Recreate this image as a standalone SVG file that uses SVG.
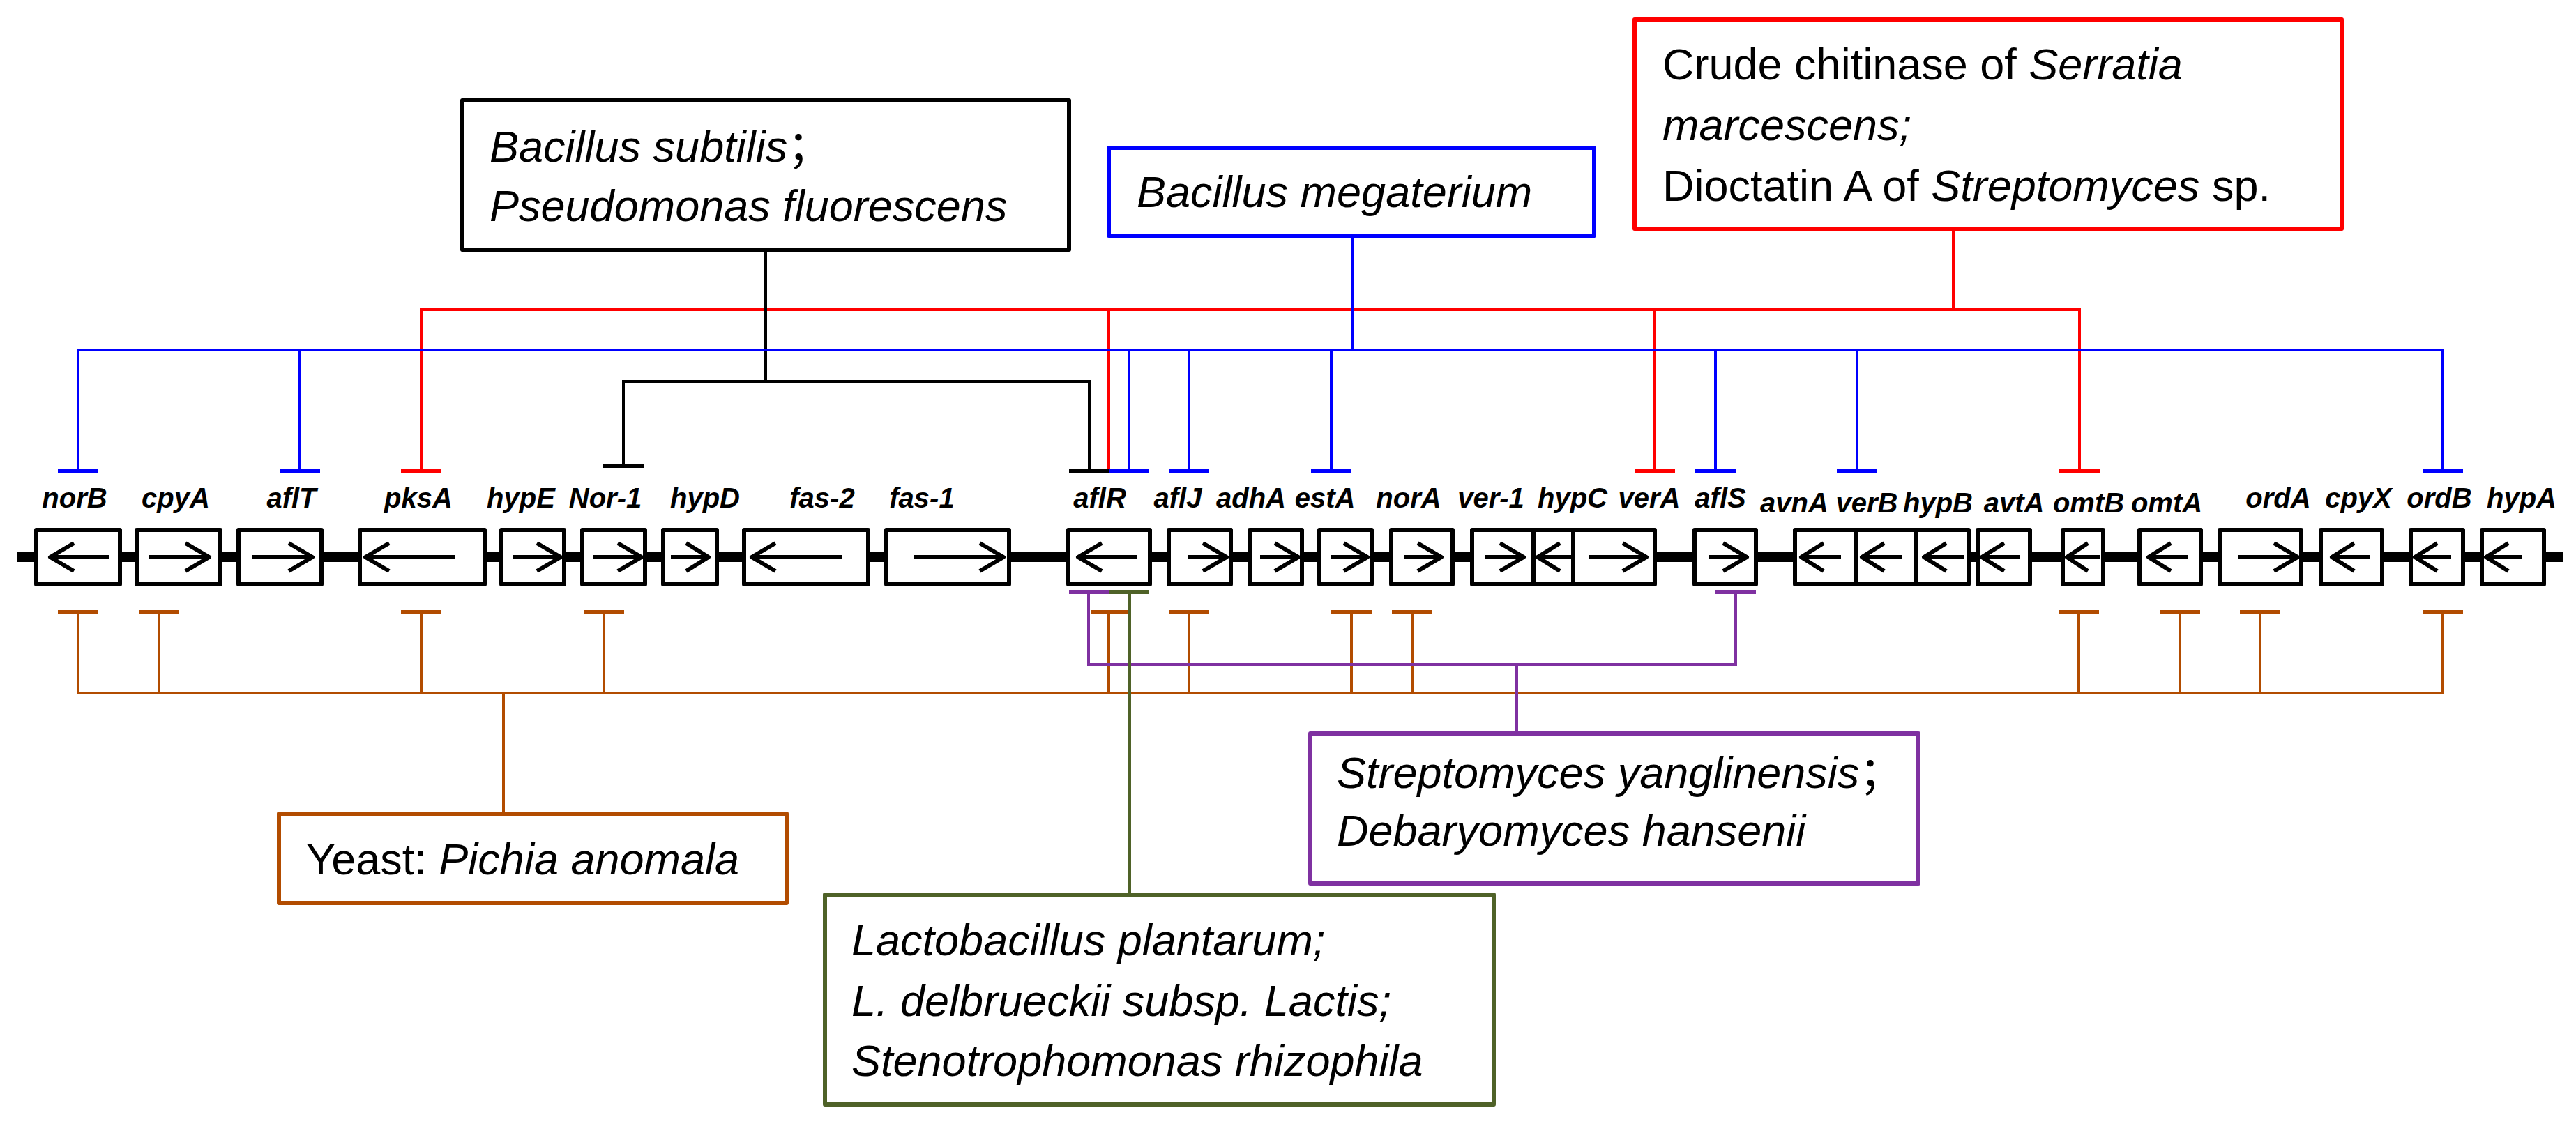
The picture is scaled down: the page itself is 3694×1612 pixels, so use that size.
<svg xmlns="http://www.w3.org/2000/svg" width="3694" height="1612" viewBox="0 0 3694 1612">
<style>
.gbox{fill:#fff;stroke:#000;stroke-width:6;stroke-linejoin:round}
.arr{fill:none;stroke:#000;stroke-width:6;stroke-linejoin:round}
.lbl{font-family:"Liberation Sans",Arial,sans-serif;font-weight:bold;font-style:italic;font-size:40px;text-anchor:middle;fill:#000}
.src{font-family:"Liberation Sans",Arial,"Noto Sans CJK SC",sans-serif;font-size:63px;fill:#000}
.it{font-style:italic}
.up{font-style:normal}
.sbox{fill:#fff;stroke-width:6;stroke-linejoin:round}
.ln{fill:none;stroke-width:4}
.tb{fill:none;stroke-width:6}
.cb{stroke:#0000FF}.cr{stroke:#FF0000}.ck{stroke:#000}.co{stroke:#B24C00}.cp{stroke:#7F31A1}.cg{stroke:#4F6228}
</style>
<rect width="3694" height="1612" fill="#fff"/>

<g id="connectors">
  <g id="conn-red">
    <path class="ln cr" d="M2801,328 V444 M604,676 V444 H2982 V676 M1590,444 V676 M2373,444 V676"/>
    <path class="tb cr" d="M575,676 H633 M1561,676 H1619 M2344,676 H2402 M2953,676 H3011"/>
  </g>
  <g id="conn-black">
    <path class="ln ck" d="M1098,358 V547 M894,668 V547 H1562 V676"/>
    <path class="tb ck" d="M865,668 H923 M1533,676 H1591"/>
  </g>
  <g id="conn-blue">
    <path class="ln cb" d="M1939,338 V502 M112,676 V502 H3503 V676 M430,502 V676 M1619,502 V676 M1705,502 V676 M1909,502 V676 M2460,502 V676 M2663,502 V676"/>
    <path class="tb cb" d="M83,676 H141 M401,676 H459 M1590,676 H1648 M1676,676 H1734 M1880,676 H1938 M2431,676 H2489 M2634,676 H2692 M3474,676 H3532"/>
  </g>
  <g id="conn-brown">
    <path class="ln co" d="M722,1167 V994 M112,878 V994 H3503 V878 M228,994 V878 M604,994 V878 M866,994 V878 M1590,994 V878 M1705,994 V878 M1938,994 V878 M2025,994 V878 M2981,994 V878 M3126,994 V878 M3241,994 V878"/>
    <path class="tb co" d="M83,878 H141 M199,878 H257 M575,878 H633 M837,878 H895 M1564,878 H1617 M1676,878 H1734 M1909,878 H1967 M1996,878 H2054 M2952,878 H3010 M3097,878 H3155 M3212,878 H3270 M3474,878 H3532"/>
  </g>
  <g id="conn-purple">
    <path class="ln cp" d="M2175,1052 V953 M1561,849 V953 H2489 V849"/>
    <path class="tb cp" d="M1533,849 H1590 M2460,849 H2518"/>
  </g>
  <g id="conn-green">
    <path class="ln cg" d="M1620,849 V1283"/>
    <path class="tb cg" d="M1590,849 H1648"/>
  </g>
</g>

<g id="backbone">
  <rect x="24" y="792" width="3651" height="14" fill="#000"/>
</g>

<g id="genes">
  <g id="g-norB"><rect class="gbox" x="52" y="760" width="120" height="78"/><path class="arr" d="M156,799 H72 M106,779 L72,799 L106,819"/><text class="lbl" x="107" y="728">norB</text></g>
  <g id="g-cpyA"><rect class="gbox" x="196" y="760" width="120" height="78"/><path class="arr" d="M214,799 H300 M266,779 L300,799 L266,819"/><text class="lbl" x="252" y="728">cpyA</text></g>
  <g id="g-aflT"><rect class="gbox" x="342" y="760" width="119" height="78"/><path class="arr" d="M362,799 H448 M414,779 L448,799 L414,819"/><text class="lbl" x="418" y="728">aflT</text></g>
  <g id="g-pksA"><rect class="gbox" x="516" y="760" width="179" height="78"/><path class="arr" d="M652,799 H524 M558,779 L524,799 L558,819"/><text class="lbl" x="600" y="728">pksA</text></g>
  <g id="g-hypE"><rect class="gbox" x="719" y="760" width="90" height="78"/><path class="arr" d="M735,799 H804 M770,779 L804,799 L770,819"/><text class="lbl" x="747" y="728">hypE</text></g>
  <g id="g-Nor-1"><rect class="gbox" x="835" y="760" width="90" height="78"/><path class="arr" d="M851,799 H920 M886,779 L920,799 L886,819"/><text class="lbl" x="868" y="728">Nor-1</text></g>
  <g id="g-hypD"><rect class="gbox" x="951" y="760" width="77" height="78"/><path class="arr" d="M962,799 H1016 M984,779 L1016,799 L984,819"/><text class="lbl" x="1011" y="728">hypD</text></g>
  <g id="g-fas-2"><rect class="gbox" x="1067" y="760" width="178" height="78"/><path class="arr" d="M1207,799 H1078 M1112,779 L1078,799 L1112,819"/><text class="lbl" x="1179" y="728">fas-2</text></g>
  <g id="g-fas-1"><rect class="gbox" x="1271" y="760" width="176" height="78"/><path class="arr" d="M1310,799 H1439 M1405,779 L1439,799 L1405,819"/><text class="lbl" x="1322" y="728">fas-1</text></g>
  <g id="g-aflR"><rect class="gbox" x="1532" y="760" width="117" height="78"/><path class="arr" d="M1631,799 H1546 M1580,779 L1546,799 L1580,819"/><text class="lbl" x="1577" y="728">aflR</text></g>
  <g id="g-aflJ"><rect class="gbox" x="1676" y="760" width="89" height="78"/><path class="arr" d="M1704,799 H1759 M1725,779 L1759,799 L1725,819"/><text class="lbl" x="1689" y="728">aflJ</text></g>
  <g id="g-adhA"><rect class="gbox" x="1792" y="760" width="75" height="78"/><path class="arr" d="M1807,799 H1862 M1828,779 L1862,799 L1828,819"/><text class="lbl" x="1794" y="728">adhA</text></g>
  <g id="g-estA"><rect class="gbox" x="1892" y="760" width="75" height="78"/><path class="arr" d="M1909,799 H1961 M1927,779 L1961,799 L1927,819"/><text class="lbl" x="1900" y="728">estA</text></g>
  <g id="g-norA"><rect class="gbox" x="1995" y="760" width="88" height="78"/><path class="arr" d="M2013,799 H2067 M2033,779 L2067,799 L2033,819"/><text class="lbl" x="2020" y="728">norA</text></g>
  <g id="g-ver-1"><rect class="gbox" x="2111" y="760" width="88" height="78"/><path class="arr" d="M2129,799 H2185 M2151,779 L2185,799 L2151,819"/><text class="lbl" x="2138" y="728">ver-1</text></g>
  <g id="g-hypC"><rect class="gbox" x="2199" y="760" width="57" height="78"/><path class="arr" d="M2256,799 H2205 M2237,779 L2205,799 L2237,819"/><text class="lbl" x="2255" y="728">hypC</text></g>
  <g id="g-verA"><rect class="gbox" x="2256" y="760" width="117" height="78"/><path class="arr" d="M2278,799 H2361 M2327,779 L2361,799 L2327,819"/><text class="lbl" x="2365" y="728">verA</text></g>
  <g id="g-aflS"><rect class="gbox" x="2430" y="760" width="88" height="78"/><path class="arr" d="M2450,799 H2505 M2471,779 L2505,799 L2471,819"/><text class="lbl" x="2467" y="728">aflS</text></g>
  <g id="g-avnA"><rect class="gbox" x="2574" y="760" width="88" height="78"/><path class="arr" d="M2640,799 H2583 M2615,779 L2583,799 L2615,819"/><text class="lbl" x="2573" y="735">avnA</text></g>
  <g id="g-verB"><rect class="gbox" x="2662" y="760" width="86" height="78"/><path class="arr" d="M2728,799 H2670 M2702,779 L2670,799 L2702,819"/><text class="lbl" x="2677" y="735">verB</text></g>
  <g id="g-hypB"><rect class="gbox" x="2748" y="760" width="75" height="78"/><path class="arr" d="M2816,799 H2759 M2791,779 L2759,799 L2791,819"/><text class="lbl" x="2779" y="735">hypB</text></g>
  <g id="g-avtA"><rect class="gbox" x="2836" y="760" width="75" height="78"/><path class="arr" d="M2896,799 H2842 M2874,779 L2842,799 L2874,819"/><text class="lbl" x="2888" y="735">avtA</text></g>
  <g id="g-omtB"><rect class="gbox" x="2958" y="760" width="58" height="78"/><path class="arr" d="M3011,799 H2964 M2994,779 L2964,799 L2994,819"/><text class="lbl" x="2995" y="735">omtB</text></g>
  <g id="g-omtA"><rect class="gbox" x="3068" y="760" width="88" height="78"/><path class="arr" d="M3137,799 H3081 M3113,779 L3081,799 L3113,819"/><text class="lbl" x="3107" y="735">omtA</text></g>
  <g id="g-ordA"><rect class="gbox" x="3183" y="760" width="117" height="78"/><path class="arr" d="M3210,799 H3295 M3261,779 L3295,799 L3261,819"/><text class="lbl" x="3267" y="728">ordA</text></g>
  <g id="g-cpyX"><rect class="gbox" x="3328" y="760" width="88" height="78"/><path class="arr" d="M3399,799 H3344 M3376,779 L3344,799 L3376,819"/><text class="lbl" x="3382" y="728">cpyX</text></g>
  <g id="g-ordB"><rect class="gbox" x="3457" y="760" width="75" height="78"/><path class="arr" d="M3515,799 H3463 M3495,779 L3463,799 L3495,819"/><text class="lbl" x="3498" y="728">ordB</text></g>
  <g id="g-hypA"><rect class="gbox" x="3559" y="760" width="89" height="78"/><path class="arr" d="M3617,799 H3565 M3597,779 L3565,799 L3597,819"/><text class="lbl" x="3616" y="728">hypA</text></g>
</g>

<g id="src-bacillus-pseudomonas">
  <rect class="sbox ck" x="663" y="144" width="870" height="214"/>
  <text class="src it" x="702" y="232">Bacillus subtilis<tspan class="up">；</tspan></text>
  <text class="src it" x="702" y="317">Pseudomonas fluorescens</text>
</g>
<g id="src-bacillus-megaterium">
  <rect class="sbox cb" x="1590" y="212" width="696" height="126"/>
  <text class="src it" x="1630" y="297">Bacillus megaterium</text>
</g>
<g id="src-chitinase-dioctatin">
  <rect class="sbox cr" x="2344" y="28" width="1014" height="300"/>
  <text class="src" x="2384" y="114">Crude chitinase of <tspan class="it">Serratia</tspan></text>
  <text class="src it" x="2384" y="201">marcescens;</text>
  <text class="src" x="2384" y="288">Dioctatin A of <tspan class="it">Streptomyces</tspan> sp.</text>
</g>
<g id="src-yeast">
  <rect class="sbox co" x="400" y="1167" width="728" height="128"/>
  <text class="src" x="439" y="1254">Yeast: <tspan class="it">Pichia anomala</tspan></text>
</g>
<g id="src-streptomyces-debaryomyces">
  <rect class="sbox cp" x="1879" y="1052" width="872" height="215"/>
  <text class="src it" x="1917" y="1130">Streptomyces yanglinensis<tspan class="up">；</tspan></text>
  <text class="src it" x="1917" y="1213">Debaryomyces hansenii</text>
</g>
<g id="src-lactobacillus">
  <rect class="sbox cg" x="1183" y="1283" width="959" height="301"/>
  <text class="src it" x="1221" y="1370">Lactobacillus plantarum;</text>
  <text class="src it" x="1221" y="1457">L. delbrueckii subsp. Lactis;</text>
  <text class="src it" x="1221" y="1543">Stenotrophomonas rhizophila</text>
</g>
</svg>
